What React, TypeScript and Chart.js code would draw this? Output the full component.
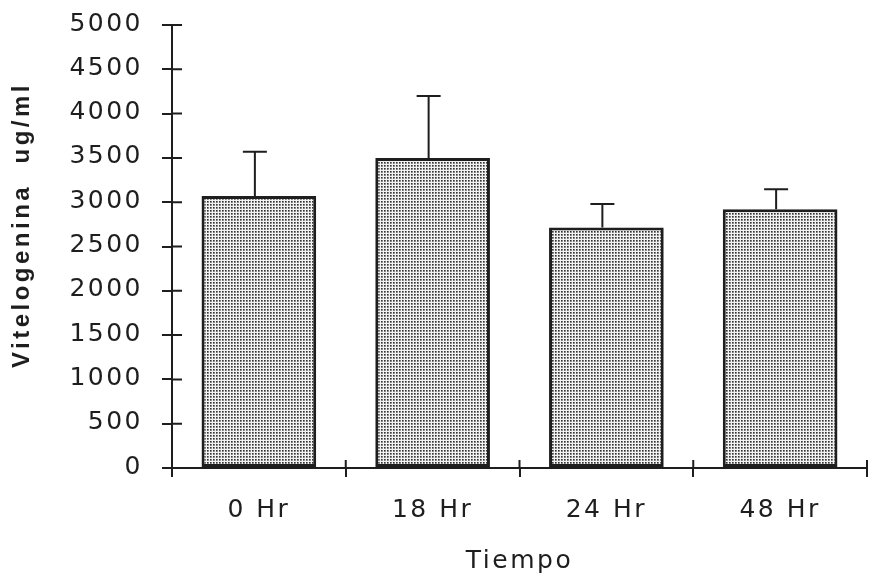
import React, { useEffect, useRef } from "react";
import { Chart, registerables } from "chart.js";

Chart.register(...registerables);

const categories = ["0 Hr", "18 Hr", "24 Hr", "48 Hr"];
const meanValues = [3070, 3500, 2715, 2920];
const errorValues = [500, 700, 265, 225];
const yMin = 0;
const yMax = 5000;
const yStep = 500;
const xTitle = "Tiempo";
const yTitle = "Vitelogenina  ug/ml";

const INK = "#1e1e1e";

function makePattern(): CanvasPattern | string {
  const c = document.createElement("canvas");
  c.width = 3;
  c.height = 3;
  const g = c.getContext("2d");
  if (!g) return "#bbbbbb";
  g.fillStyle = "#f2f2f2";
  g.fillRect(0, 0, 3, 3);
  g.fillStyle = "#9a9a9a";
  g.fillRect(0, 0, 2, 2);
  g.fillStyle = "#777777";
  g.fillRect(1, 0, 1, 1);
  g.fillRect(0, 1, 1, 1);
  g.fillStyle = "#333333";
  g.fillRect(0, 0, 1, 1);
  const p = g.createPattern(c, "repeat");
  return p || "#bbbbbb";
}

export default function App() {
  const ref = useRef<HTMLCanvasElement | null>(null);

  useEffect(() => {
    document.body.style.margin = "0";
    const canvas = ref.current;
    if (!canvas) return;

    const spacingPlugin = {
      id: "spacing",
      beforeDraw(chart: any) {
        chart.ctx.letterSpacing = "2.5px";
      },
    };

    const decorPlugin = {
      id: "decor",
      afterDatasetsDraw(chart: any) {
        const ctx = chart.ctx;
        const ys = chart.scales.y;
        const meta = chart.getDatasetMeta(0);
        ctx.save();
        ctx.strokeStyle = INK;
        ctx.lineWidth = 2;
        meta.data.forEach((bar: any, i: number) => {
          const x = bar.x - 4;
          const yTop = bar.y;
          const yErr = ys.getPixelForValue(meanValues[i] + errorValues[i]);
          ctx.beginPath();
          ctx.moveTo(x, yTop);
          ctx.lineTo(x, yErr);
          ctx.moveTo(x - 12, yErr);
          ctx.lineTo(x + 12, yErr);
          ctx.stroke();
        });
        ctx.restore();
      },
      afterDraw(chart: any) {
        const ctx = chart.ctx;
        const ys = chart.scales.y;
        const xs = chart.scales.x;
        const area = chart.chartArea;
        ctx.save();
        ctx.strokeStyle = INK;
        ctx.lineWidth = 2;
        ctx.beginPath();
        ys.ticks.forEach((t: any) => {
          const y = ys.getPixelForValue(t.value);
          ctx.moveTo(area.left, y);
          ctx.lineTo(area.left + 10, y);
        });
        for (let i = 1; i <= categories.length; i++) {
          const x = xs.getPixelForValue(i - 0.5);
          ctx.moveTo(x, area.bottom);
          ctx.lineTo(x, area.bottom - 8);
        }
        ctx.stroke();

        // y axis title
        ctx.letterSpacing = "3.5px";
        ctx.fillStyle = INK;
        ctx.font = "bold 24px 'Liberation Sans', Arial, sans-serif";
        ctx.textAlign = "center";
        ctx.textBaseline = "alphabetic";
        ctx.translate(29, 225);
        ctx.rotate(-Math.PI / 2);
        ctx.fillText(yTitle, 0, 0);
        ctx.restore();
      },
    };

    const chart = new Chart(canvas, {
      type: "bar",
      data: {
        labels: categories,
        datasets: [
          {
            data: meanValues,
            backgroundColor: makePattern() as any,
            borderColor: INK,
            borderWidth: 3,
            borderSkipped: false,
            barPercentage: 0.66,
            categoryPercentage: 1,
          },
        ],
      },
      options: {
        responsive: false,
        animation: false,
        layout: { padding: { top: 25, right: 5, left: 0, bottom: 0 } },
        plugins: {
          legend: { display: false },
          tooltip: { enabled: false },
        },
        scales: {
          x: {
            afterFit(scale: any) {
              scale.height = 120;
              scale.paddingLeft = 0;
              scale.paddingRight = 0;
            },
            border: { display: true, color: INK, width: 2 },
            grid: {
              offset: true,
              drawOnChartArea: false,
              drawTicks: true,
              tickLength: 9,
              color: INK,
              lineWidth: 2,
            },
            ticks: {
              color: INK,
              padding: 18,
              font: { family: "'DejaVu Sans', sans-serif", size: 25 },
            },
            title: {
              display: true,
              text: xTitle,
              color: INK,
              padding: { top: 12, bottom: 12 },
              font: { family: "'DejaVu Sans', sans-serif", size: 25 },
            },
          },
          y: {
            min: yMin,
            max: yMax,
            afterFit(scale: any) {
              scale.width = 172;
              scale.paddingTop = 0;
              scale.paddingBottom = 0;
            },
            border: { display: true, color: INK, width: 2 },
            grid: {
              drawOnChartArea: false,
              drawTicks: true,
              tickLength: 10,
              color: INK,
              lineWidth: 2,
            },
            ticks: {
              stepSize: yStep,
              color: INK,
              padding: 19,
              labelOffset: -1,
              font: { family: "'DejaVu Sans', sans-serif", size: 25 },
              callback: (v: any) => String(v),
            },
          },
        },
      },
      plugins: [spacingPlugin, decorPlugin],
    });

    return () => chart.destroy();
  }, []);

  return (
    <div style={{ width: 872, height: 588 }}>
      <canvas ref={ref} width={872} height={588} style={{ display: "block" }} />
    </div>
  );
}
